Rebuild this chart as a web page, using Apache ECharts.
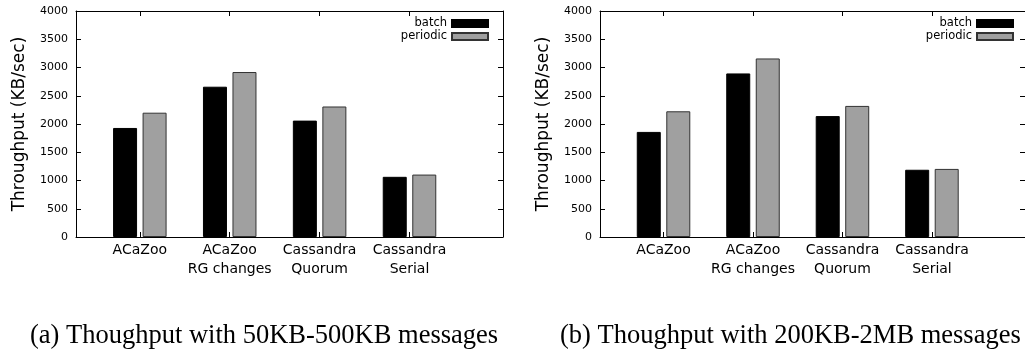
<!DOCTYPE html>
<html>
<head>
<meta charset="utf-8">
<script src="https://cdn.jsdelivr.net/npm/echarts@6/dist/echarts.min.js"></script>
<style>
  html, body { margin: 0; padding: 0; background: #fff; }
  #main { width: 1025px; height: 351px; }
</style>
</head>
<body>
<div id="main"></div>
<script>
// categories on the x axis
const categories = ['ACaZoo', 'ACaZoo\nRG changes', 'Cassandra\nQuorum', 'Cassandra\nSerial'];
const seriesNames = ['batch', 'periodic'];

// (a) 50KB-500KB messages
const batchSmall = [1930, 2660, 2060, 1065];
const periodicSmall = [2200, 2920, 2310, 1105];
// (b) 200KB-2MB messages
const batchLarge = [1860, 2895, 2140, 1190];
const periodicLarge = [2225, 3160, 2320, 1205];

const yMax = 4000;
const yStep = 500;
const captions = [
  '(a) Thoughput with 50KB-500KB messages',
  '(b) Thoughput with 200KB-2MB messages'
];

const catPos = categories.map((c, i) => i);
const toPairs = arr => arr.map((v, i) => [i, v]);

const chart = echarts.init(document.getElementById('main'));

const gridLefts = [76, 600];
const legendRights = [536, 11];

function xAxes(gi) {
  const base = {
    gridIndex: gi,
    type: 'value',
    min: -0.71,
    max: 4.04,
    splitLine: { show: false },
    axisLine: { show: true, onZero: false, lineStyle: { color: '#000', width: 1 } },
    axisTick: { show: true, inside: true, length: 5, customValues: catPos, lineStyle: { color: '#000' } }
  };
  return [
    Object.assign({}, base, {
      position: 'bottom',
      axisLabel: {
        customValues: catPos,
        formatter: v => categories[Math.round(v)],
        fontSize: 14,
        lineHeight: 18.7,
        color: '#000',
        margin: 4
      }
    }),
    Object.assign({}, base, { position: 'top', axisLabel: { show: false } })
  ];
}

function yAxes(gi) {
  const base = {
    gridIndex: gi,
    type: 'value',
    min: 0,
    max: yMax,
    interval: yStep,
    splitLine: { show: false },
    axisLine: { show: true, onZero: false, lineStyle: { color: '#000', width: 1 } },
    axisTick: { show: true, inside: true, length: 5, lineStyle: { color: '#000' } }
  };
  return [
    Object.assign({}, base, {
      position: 'left',
      name: 'Throughput (KB/sec)',
      nameLocation: 'middle',
      nameGap: 48,
      nameTextStyle: { fontSize: 17, color: '#000' },
      axisLabel: { fontSize: 11, color: '#000', margin: 8, formatter: v => String(v) }
    }),
    Object.assign({}, base, { position: 'right', axisLabel: { show: false } })
  ];
}

function barSeries(gi, batch, periodic) {
  return [
    {
      name: 'batch', type: 'bar', xAxisIndex: gi * 2, yAxisIndex: gi * 2,
      data: toPairs(batch), barWidth: 24, barGap: '23%',
      itemStyle: { color: '#000', borderColor: '#000', borderWidth: 1 },
      emphasis: { disabled: true }
    },
    {
      name: 'periodic', type: 'bar', xAxisIndex: gi * 2, yAxisIndex: gi * 2,
      data: toPairs(periodic), barWidth: 24, barGap: '23%',
      itemStyle: { color: '#a0a0a0', borderColor: '#333', borderWidth: 1 },
      emphasis: { disabled: true }
    }
  ];
}

const option = {
  animation: false,
  textStyle: { fontFamily: 'DejaVu Sans', color: '#000' },
  grid: gridLefts.map(l => ({ left: l, top: 11, width: 427, height: 226 })),
  legend: legendRights.map(r => ({
    data: seriesNames,
    orient: 'vertical',
    align: 'right',
    right: r,
    top: 17,
    padding: 0,
    itemWidth: 36,
    itemHeight: 7,
    itemGap: 0,
    icon: 'rect',
    selectedMode: false,
    textStyle: { fontSize: 11.5, lineHeight: 13, color: '#000' }
  })),
  xAxis: xAxes(0).concat(xAxes(1)),
  yAxis: yAxes(0).concat(yAxes(1)),
  series: barSeries(0, batchSmall, periodicSmall).concat(barSeries(1, batchLarge, periodicLarge)),
  graphic: captions.map((t, i) => ({
    type: 'text',
    left: i === 0 ? 30 : 560,
    top: 323,
    style: {
      text: t,
      font: '26.5px "Liberation Serif"',
      fill: '#000'
    }
  }))
};

chart.setOption(option);
</script>
</body>
</html>
